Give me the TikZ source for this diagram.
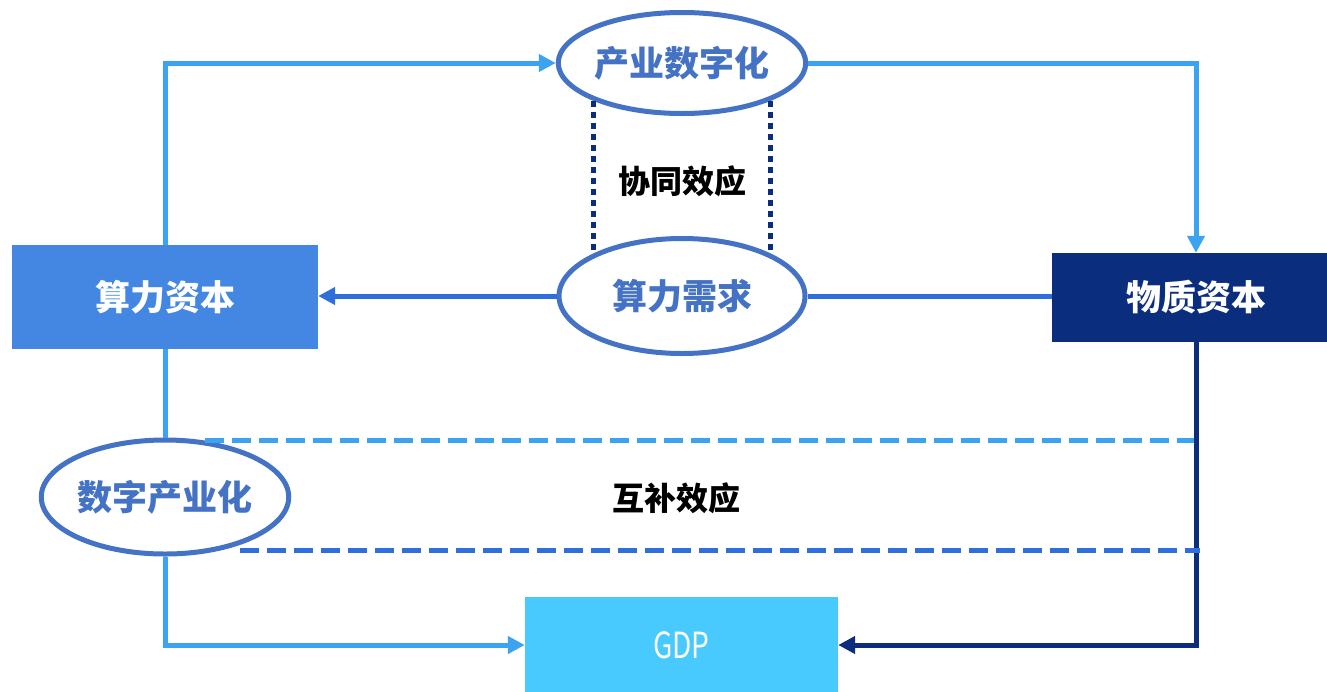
\documentclass[tikz,border=0pt]{standalone}
\usepackage{fontspec}
\setmainfont{Noto Sans CJK SC}
\newfontfamily\gdpfont{Noto Sans CJK SC}[FakeStretch=0.78]
\usetikzlibrary{shapes.geometric,arrows.meta}
\definecolor{lblue}{HTML}{3BA3F0}
\definecolor{mblue}{HTML}{2F6FDB}
\definecolor{navy}{HTML}{0B2D7E}
\definecolor{ellc}{HTML}{4472C4}
\definecolor{capfill}{HTML}{4387E2}
\definecolor{gdpfill}{HTML}{48CAFE}
\tikzset{
  ell/.style={ellipse, draw=ellc, line width=5pt, fill=white, inner sep=0pt,
    text=ellc, font=\bfseries\fontsize{35}{38}\selectfont},
  boxnode/.style={rectangle, inner sep=0pt, text=white,
    font=\bfseries\fontsize{35}{38}\selectfont},
  conn/.style={line width=5pt},
  tip/.style={-{Triangle[length=17pt,width=17pt]}},
  effect/.style={font=\bfseries\fontsize{32}{35}\selectfont, text=black},
  dotline/.style={draw=navy, line width=5pt, dash pattern=on 6pt off 5pt},
  dashline/.style={line width=5pt, dash pattern=on 19pt off 8pt}
}
\begin{document}
\begin{tikzpicture}[x=1pt,y=-1pt]
\useasboundingbox[fill=white] (0,0) rectangle (1327,691);

% boxes
\node[boxnode, fill=capfill, minimum width=306pt, minimum height=104pt] (srzb) at (165,297) {算力资本};
\node[boxnode, fill=navy, minimum width=288pt, minimum height=89pt] (wzzb) at (1196,297.5) {物质资本};
\node[boxnode, fill=gdpfill, minimum width=313pt, minimum height=96pt, font=\gdpfont\fontsize{36}{38}\selectfont] (gdp) at (681.5,645) {GDP};

% ellipses
\node[ell, minimum width=245pt, minimum height=101pt] (cyszh) at (682,63) {产业数字化};
\node[ell, minimum width=246pt, minimum height=115pt] (srxq) at (682,296) {算力需求};
\node[ell, minimum width=243pt, minimum height=114pt] (szcyh) at (165,497) {数字产业化};

% dashed complement lines
\coordinate (d1a) at (205,440);
\coordinate (d1b) at (1196,440);
\coordinate (d2a) at (240,550);
\coordinate (d2b) at (1200,550);
\draw[dashline, draw=lblue] (d1a) -- (d1b);

% connectors
\draw[conn, draw=lblue, tip] (srzb.north) |- (cyszh.west);
\draw[conn, draw=lblue, tip] (cyszh.east) -| (wzzb.north);
\draw[conn, draw=mblue, tip] (srxq.west) -- (srxq.west -| srzb.east);
\draw[conn, draw=mblue] (srxq.east) -- (srxq.east -| wzzb.west);
\draw[conn, draw=lblue] (srzb.south) -- (szcyh.north);
\draw[conn, draw=lblue, tip] (szcyh.south) |- (gdp.west);
\draw[conn, draw=navy, tip] (wzzb.south) |- (gdp.east);

\draw[dashline, draw=mblue] (d2a) -- (d2b);

% dotted synergy lines
\draw[dotline] (cyszh.203.6) -- (cyszh.203.6 |- srxq.153.7);
\draw[dotline] (cyszh.-23.6) -- (cyszh.-23.6 |- srxq.26.3);

% labels
\node[effect] (xt) at (682,181) {协同效应};
\node[effect] (hb) at (676,498) {互补效应};
\end{tikzpicture}
\end{document}
